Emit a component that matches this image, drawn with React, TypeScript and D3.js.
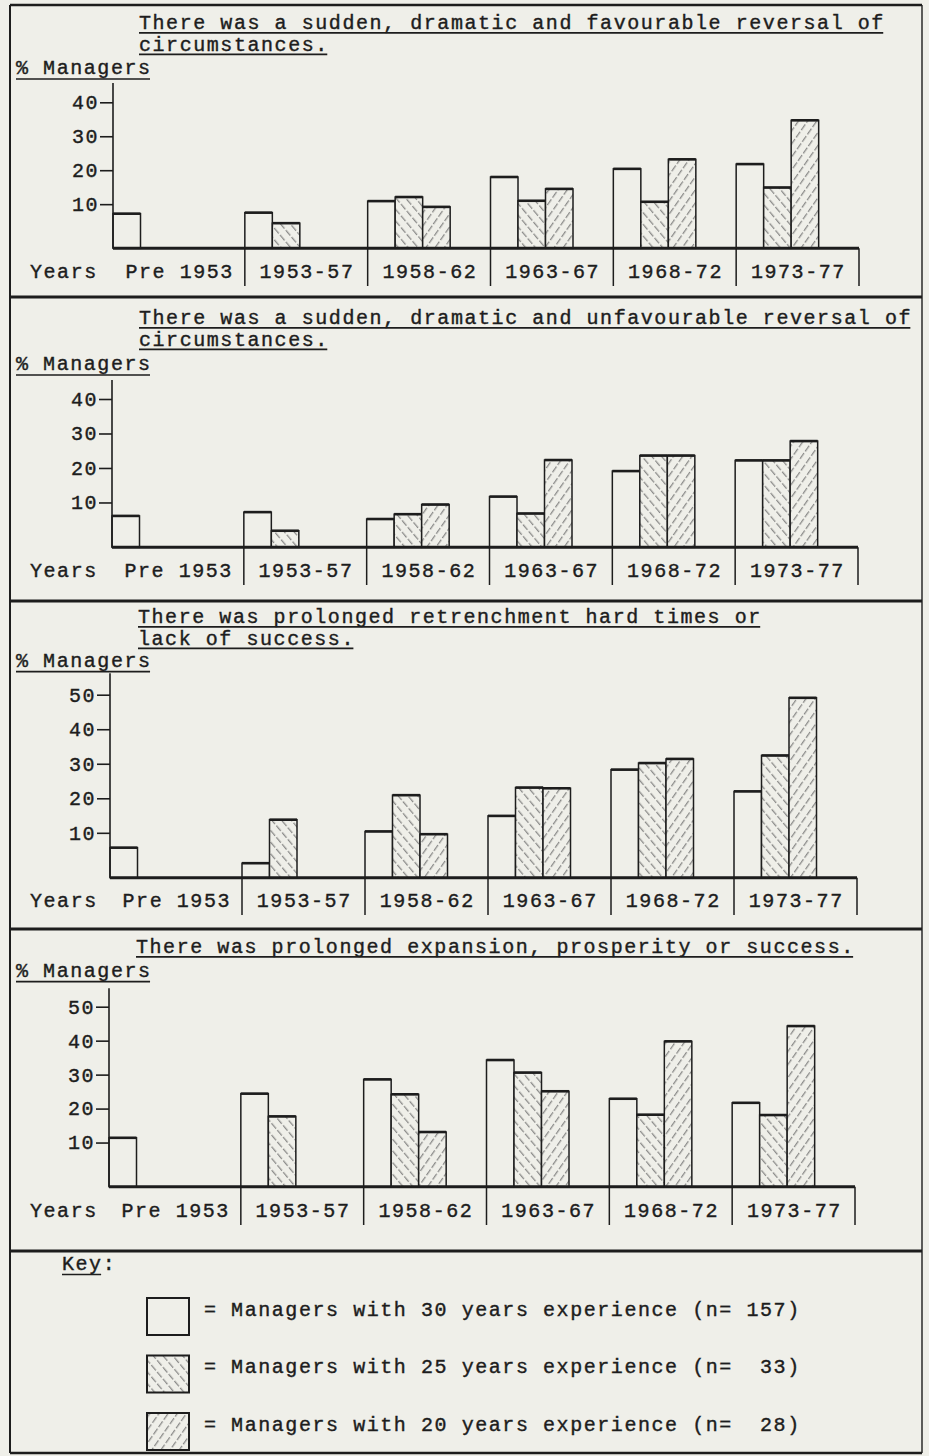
import React, { useEffect, useRef } from "react";
import * as d3 from "d3";

// ---------- data ----------
const categories = ["Pre 1953", "1953-57", "1958-62", "1963-67", "1968-72", "1973-77"];

const legendLabels = [
  "= Managers with 30 years experience (n= 157)",
  "= Managers with 25 years experience (n=  33)",
  "= Managers with 20 years experience (n=  28)",
];

const favourableTitle = ["There was a sudden, dramatic and favourable reversal of", "circumstances."];
const favourable30 = [7.2, 7.5, 10.9, 18.0, 20.4, 21.8];
const favourable25 = [null, 4.4, 12.1, 11.0, 10.7, 14.9];
const favourable20 = [null, null, 9.2, 14.5, 23.2, 34.7];

const unfavourableTitle = ["There was a sudden, dramatic and unfavourable reversal of", "circumstances."];
const unfavourable30 = [6.1, 7.2, 5.2, 11.7, 19.1, 22.2];
const unfavourable25 = [null, 1.8, 6.6, 6.8, 23.6, 22.2];
const unfavourable20 = [null, null, 9.4, 22.3, 23.6, 27.8];

const retrenchTitle = ["There was prolonged retrenchment hard times or", "lack of success."];
const retrench30 = [5.7, 1.2, 10.4, 14.9, 28.3, 22.0];
const retrench25 = [null, 13.8, 20.9, 23.1, 30.2, 32.4];
const retrench20 = [null, null, 9.6, 22.9, 31.4, 49.1];

const expansionTitle = ["There was prolonged expansion, prosperity or success."];
const expansion30 = [11.4, 24.4, 28.6, 34.3, 22.9, 21.7];
const expansion25 = [null, 17.7, 24.2, 30.6, 18.2, 18.1];
const expansion20 = [null, null, 13.1, 25.1, 39.8, 44.3];

const ticks40 = [10, 20, 30, 40];
const ticks50 = [10, 20, 30, 40, 50];

const yAxisLabel = "% Managers";
const xAxisLabel = "Years";
const keyLabel = "Key:";

// ---------- style / layout ----------
const W = 929;
const H = 1456;
const FONT = "'Liberation Mono', 'Courier New', monospace";
const FS = 20;
const LS = 1.56;
const ADV = 0.6 * FS + LS;
const INK = "#1d1d1d";
const PAPER = "#efefe9";
const HATCH = "#7a7a7a";
const BAR_W = 27.5;
const BASE_OFFSET = -3; // typewritten baseline sits a little under zero
const FIRST_EXTRA = 9;

const panels = [
  {
    title: favourableTitle, s: [favourable30, favourable25, favourable20], ticks: ticks40,
    L: { titleX: 139, titleY: 29.3, yLabelY: 74, axisTop: 83, topTickY: 102.3, baseline: 248.3, xLabelY: 278, divBottom: 286, axisX: 113, endX: 859 },
  },
  {
    title: unfavourableTitle, s: [unfavourable30, unfavourable25, unfavourable20], ticks: ticks40,
    L: { titleX: 139, titleY: 324.3, yLabelY: 370, axisTop: 380, topTickY: 399, baseline: 547.3, xLabelY: 576.7, divBottom: 585, axisX: 112, endX: 858 },
  },
  {
    title: retrenchTitle, s: [retrench30, retrench25, retrench20], ticks: ticks50,
    L: { titleX: 138, titleY: 623.3, yLabelY: 666.7, axisTop: 673.3, topTickY: 694.7, baseline: 877.7, xLabelY: 906.7, divBottom: 915, axisX: 110, endX: 857 },
  },
  {
    title: expansionTitle, s: [expansion30, expansion25, expansion20], ticks: ticks50,
    L: { titleX: 136, titleY: 953.3, yLabelY: 976.7, axisTop: 988.3, topTickY: 1006.7, baseline: 1186.7, xLabelY: 1216.7, divBottom: 1225, axisX: 109, endX: 855 },
  },
];

const separators = [297, 601, 929, 1251];
const frame = { left: 10, right: 922, top: 5, bottom: 1453 };
const fills = [PAPER, "url(#hatchBack)", "url(#hatchFwd)"];

export default function App() {
  const ref = useRef<SVGSVGElement>(null);

  useEffect(() => {
    const svg = d3.select(ref.current);
    svg.selectAll("*").remove();

    const defs = svg.append("defs");
    const mkPattern = (id: string, angle: number) => {
      const p = defs.append("pattern")
        .attr("id", id).attr("patternUnits", "userSpaceOnUse")
        .attr("width", 7.5).attr("height", 9)
        .attr("patternTransform", `rotate(${angle})`);
      p.append("rect").attr("width", 7.5).attr("height", 9).attr("fill", PAPER);
      p.append("line").attr("x1", 3.5).attr("x2", 3.5).attr("y1", 0).attr("y2", 7)
        .attr("stroke", HATCH).attr("stroke-width", 1.1);
    };
    mkPattern("hatchBack", -40);
    mkPattern("hatchFwd", 35);

    svg.append("rect").attr("width", W).attr("height", H).attr("fill", PAPER);

    const text = (g: any, s: string, x: number, y: number, anchor = "start") =>
      g.append("text").attr("x", x).attr("y", y).attr("text-anchor", anchor)
        .attr("font-family", FONT).attr("font-size", FS).attr("letter-spacing", LS)
        .attr("fill", INK).attr("stroke", INK).attr("stroke-width", 0.4)
        .style("white-space", "pre").text(s);
    const underline = (g: any, x: number, y: number, n: number, w = 1.7) =>
      g.append("line").attr("x1", x).attr("x2", x + n * ADV - LS).attr("y1", y).attr("y2", y)
        .attr("stroke", INK).attr("stroke-width", w);

    // frame
    const fr = svg.append("g").attr("stroke", INK);
    fr.append("line").attr("x1", frame.left).attr("x2", frame.left).attr("y1", frame.top).attr("y2", frame.bottom).attr("stroke-width", 2);
    fr.append("line").attr("x1", frame.right).attr("x2", frame.right).attr("y1", frame.top).attr("y2", frame.bottom).attr("stroke-width", 1.4);
    fr.append("line").attr("x1", frame.left).attr("x2", frame.right).attr("y1", frame.top).attr("y2", frame.top).attr("stroke-width", 2.5);
    fr.append("line").attr("x1", frame.left).attr("x2", frame.right).attr("y1", frame.bottom).attr("y2", frame.bottom).attr("stroke-width", 2.5);
    separators.forEach((sy) =>
      fr.append("line").attr("x1", frame.left).attr("x2", frame.right).attr("y1", sy).attr("y2", sy).attr("stroke-width", 2.8));

    panels.forEach((p) => {
      const L = p.L;
      const g = svg.append("g");

      // titles
      p.title.forEach((t, i) => {
        const ty = L.titleY + i * 21.5;
        text(g, t, L.titleX, ty);
        underline(g, L.titleX, ty + 3.5, t.length);
      });
      text(g, yAxisLabel, 16, L.yLabelY);
      underline(g, 16, L.yLabelY + 5, yAxisLabel.length);

      const y = d3.scaleLinear().domain([BASE_OFFSET, d3.max(p.ticks) as number]).range([L.baseline, L.topTickY]);
      const x = d3.scaleBand<string>().domain(categories).range([L.axisX + FIRST_EXTRA, L.endX]).paddingInner(0).paddingOuter(0);
      const groupStart = (i: number) => (i === 0 ? L.axisX : (x(categories[i]) as number));
      const groupEnd = (i: number) => (x(categories[i]) as number) + x.bandwidth();

      // bars
      categories.forEach((c, i) => {
        p.s.forEach((series, j) => {
          const v = series[i];
          if (v == null) return;
          const bx = groupStart(i) + j * BAR_W;
          const by = y(v);
          g.append("rect").attr("x", bx).attr("y", by).attr("width", BAR_W).attr("height", L.baseline - by)
            .attr("fill", fills[j]).attr("stroke", INK).attr("stroke-width", 1.5);
          g.append("line").attr("x1", bx).attr("x2", bx + BAR_W).attr("y1", by).attr("y2", by)
            .attr("stroke", INK).attr("stroke-width", 2.6);
        });
      });

      // y axis
      g.append("line").attr("x1", L.axisX).attr("x2", L.axisX).attr("y1", L.axisTop).attr("y2", L.baseline)
        .attr("stroke", INK).attr("stroke-width", 1.6);
      const ax = g.append("g").attr("transform", `translate(${L.axisX},0)`)
        .call(d3.axisLeft(y).tickValues(p.ticks).tickSize(13).tickPadding(1).tickFormat(d3.format("d")));
      ax.select(".domain").remove();
      ax.selectAll(".tick line").attr("stroke", INK).attr("stroke-width", 1.6);
      ax.selectAll(".tick text").attr("font-family", FONT).attr("font-size", FS).attr("letter-spacing", LS)
        .attr("fill", INK).attr("stroke", INK).attr("stroke-width", 0.4);

      // x axis
      g.append("line").attr("x1", L.axisX).attr("x2", L.endX).attr("y1", L.baseline).attr("y2", L.baseline)
        .attr("stroke", INK).attr("stroke-width", 3);
      categories.forEach((c, i) => {
        if (i > 0) {
          const dx = x(c) as number;
          g.append("line").attr("x1", dx).attr("x2", dx).attr("y1", L.baseline).attr("y2", L.divBottom)
            .attr("stroke", INK).attr("stroke-width", 1.5);
        }
        text(g, c, (groupStart(i) + groupEnd(i)) / 2 + LS / 2, L.xLabelY, "middle");
      });
      g.append("line").attr("x1", L.endX).attr("x2", L.endX).attr("y1", L.baseline).attr("y2", L.divBottom)
        .attr("stroke", INK).attr("stroke-width", 1.5);
      text(g, xAxisLabel, 30, L.xLabelY);
    });

    // legend
    const lg = svg.append("g");
    text(lg, keyLabel, 62, 1270);
    underline(lg, 62, 1274.5, 3);
    const legendRowY = d3.scalePoint<number>().domain([0, 1, 2]).range([1298, 1413]);
    legendLabels.forEach((lab, j) => {
      const top = legendRowY(j) as number;
      lg.append("rect").attr("x", 147).attr("y", top).attr("width", 42).attr("height", 37)
        .attr("fill", fills[j]).attr("stroke", INK).attr("stroke-width", 2);
      text(lg, lab, 204, top + 17.5);
    });
  }, []);

  return (
    <svg
      ref={ref}
      width={W}
      height={H}
      style={{ position: "absolute", left: 0, top: 0, display: "block" }}
    />
  );
}
